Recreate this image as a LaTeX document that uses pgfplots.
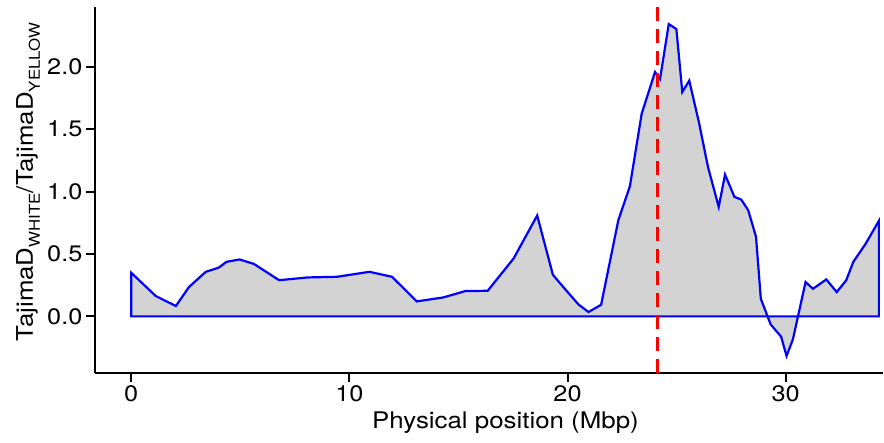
\documentclass[border=0pt]{standalone}
\usepackage{pgfplots}
\pgfplotsset{compat=1.18}
\usepackage{fontspec}
\setmainfont[FakeStretch=1.13]{TeX Gyre Heros}
\definecolor{rgray}{HTML}{D3D3D3}
\newcommand{\sub}[1]{\raisebox{-7bp}{\fontsize{15}{16}\selectfont #1}}
\begin{document}
\begin{tikzpicture}
\begin{axis}[
  scale only axis,
  width=789bp, height=366.5bp,
  xmin=-1.662, xmax=34.46,
  ymin=-0.454, ymax=2.478,
  axis x line*=bottom, axis y line*=left,
  axis line style={line width=2bp, black},
  every tick/.style={black, line width=2bp},
  tick align=outside,
  major tick length=9bp,
  xtick={0,10,20,30},
  ytick={0,0.5,1,1.5,2},
  /pgf/number format/assume math mode=true,
  yticklabel style={/pgf/number format/fixed, /pgf/number format/fixed zerofill, /pgf/number format/precision=1},
  ticklabel style={font=\fontsize{22.5}{26}\selectfont},
  xlabel={Physical position (Mbp)},
  ylabel={TajimaD\sub{WHITE}/TajimaD\sub{YELLOW}},
  label style={font=\fontsize{23}{26}\selectfont},
  xlabel style={at={(axis description cs:0.521,-0.1526)}, anchor=base},
  ylabel style={at={(axis description cs:-0.0786,0.522)}, anchor=base},
  clip=false,
]
\addplot[draw=blue, fill=rgray, line width=2.2bp, line join=miter] coordinates {
(0,0) (0,0.35) (1.13,0.163) (2.05,0.083) (2.65,0.235) (3.42,0.357) (4.01,0.39)
(4.37,0.437) (4.97,0.456) (5.63,0.42) (6.78,0.29) (8.1,0.312) (9.43,0.317)
(10.92,0.357) (11.96,0.317) (13.09,0.12) (14.31,0.152) (15.32,0.203) (16.34,0.205)
(17.53,0.464) (18.61,0.808) (19.33,0.333) (19.9,0.216) (20.5,0.096) (20.96,0.035)
(21.54,0.093) (22.33,0.771) (22.86,1.043) (23.4,1.624) (24.01,1.957) (24.24,1.901)
(24.64,2.341) (24.99,2.301) (25.26,1.797) (25.58,1.888) (26.03,1.549) (26.44,1.195)
(26.93,0.877) (27.22,1.136) (27.65,0.957) (27.96,0.936) (28.28,0.851) (28.64,0.637)
(28.86,0.141) (29.31,-0.064) (29.79,-0.163) (30.04,-0.317) (30.33,-0.184) (30.91,0.275)
(31.25,0.221) (31.86,0.296) (32.34,0.195) (32.77,0.288) (33.1,0.437) (33.66,0.581)
(34.27,0.765) (34.27,0)
} -- cycle;
\addplot[red, line width=2.2bp, dash pattern=on 14bp off 8bp] coordinates {(24.12,-0.454) (24.12,2.478)};
\end{axis}
\path ([xshift=-95bp,yshift=-70bp]current axis.south west) rectangle ([yshift=7bp]current axis.north east);
\end{tikzpicture}
\end{document}
